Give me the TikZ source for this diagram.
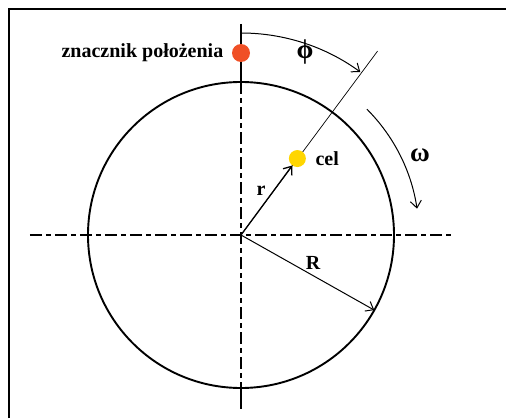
\documentclass[tikz,border=0pt]{standalone}
\usepackage{fontspec}
\setmainfont{Liberation Serif}
\usetikzlibrary{arrows.meta, positioning, calc}
\definecolor{markred}{RGB}{240,80,38}
\definecolor{celyellow}{RGB}{255,214,0}

\begin{document}
\begin{tikzpicture}[x=1pt, y=1pt, font=\bfseries\fontsize{20}{24}\selectfont,
  axisline/.style={line width=1.1pt, dash pattern=on 12pt off 4pt on 5pt off 4pt},
  barb/.style={-{Straight Barb[length=7pt, width=11pt]}},
  dot/.style={circle, inner sep=0pt, minimum size=18pt},
  greek/.style={font=\bfseries\fontsize{27}{30}\selectfont}]
  \useasboundingbox (-241,-183) rectangle (265,235);
  % Frame
  \draw[line width=1.8pt] (-232,-183) -- (-232,226) -- (265,226);
  % Centre and disc
  \coordinate (O) at (0,0);
  \draw[line width=1.9pt] (O) circle (153);
  % Axes
  \draw[axisline] (-211,0) -- (211,0);
  \draw[axisline] (0,153) -- (0,-153);
  \draw[line width=1.1pt] (0,211) -- (0,153);
  \draw[line width=1.1pt] (0,-153) -- (0,-174);
  % Position marker
  \node[dot, fill=markred] (marker) at (0,182) {};
  \node[left=5pt of marker] (markerlbl) {znacznik położenia};
  % Target line and target
  \coordinate (tend) at (53.4:229);
  \draw[line width=0.7pt] (O) -- (tend);
  \node[dot, fill=celyellow, minimum size=17pt] (cel) at (53.6:95) {};
  \node[right=6pt of cel] (cellbl) {cel};
  \draw[barb, line width=1.3pt] (O) -- (cel);
  \node (rlbl) at (20,44) {r};
  % Radius
  \coordinate (Rend) at (-29.4:153);
  \draw[barb, line width=1pt] (O) -- (Rend);
  \node (Rlbl) at (72,-28) {R};
  % Angle phi
  \draw[barb, line width=1pt] (90:202) arc[start angle=90, end angle=53.8, radius=202];
  \node[greek] (philbl) at (64,183) {ϕ};
  % Rotation omega
  \draw[barb, line width=1pt] (45:178) arc[start angle=45, end angle=8.5, radius=178];
  \node[greek] (omegalbl) at (179,80) {ω};
\end{tikzpicture}
\end{document}
